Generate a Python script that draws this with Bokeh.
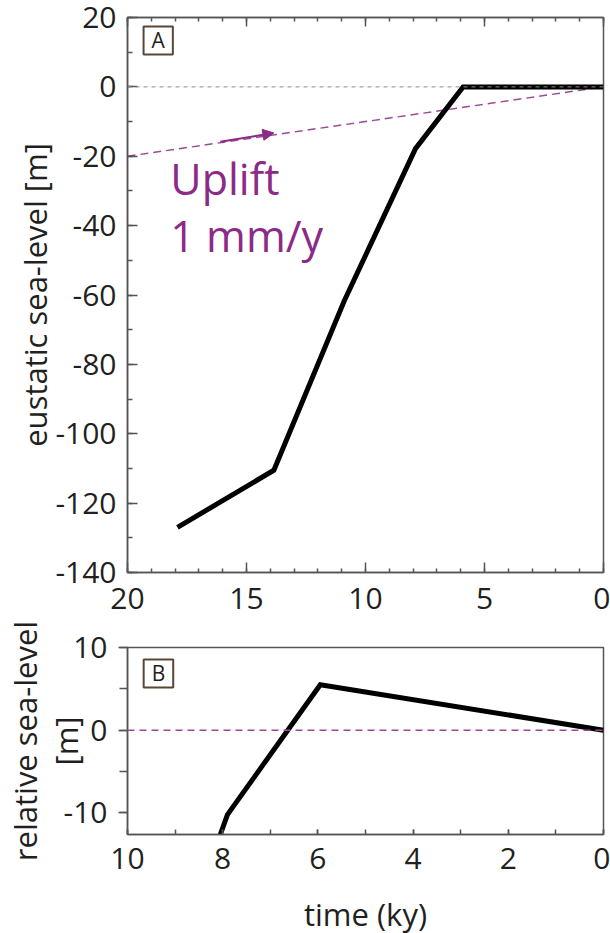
from bokeh.plotting import figure
from bokeh.models import (Range1d, SingleIntervalTicker, LinearAxis, Span, Label,
                          Arrow, NormalHead, CustomJSTickFormatter)
from bokeh.layouts import column
from bokeh.embed import file_html
from bokeh.resources import INLINE

# ---------------- data ----------------
# Panel A: eustatic sea-level curve
eustatic_time_ky = [17.9, 13.85, 10.9, 7.9, 5.9, 0.0]
eustatic_level_m = [-127.0, -110.5, -61.8, -17.8, 0.0, 0.0]
# Panel A: uplift reference line (1 mm/y)
uplift_time_ky = [20.0, 0.0]
uplift_level_m = [-20.0, 0.0]
# Panel A: arrow along the uplift line
arrow_time_ky = [16.1, 13.85]
arrow_level_m = [-15.8, -13.3]
# Panel B: relative sea-level curve
relative_time_ky = [8.05, 7.9, 5.95, 0.0]
relative_level_m = [-12.6, -10.2, 5.5, 0.0]

uplift_text = ["Uplift", "1 mm/y"]
panel_letters = ["A", "B"]
ylabel_a = "eustatic sea-level [m]"
ylabel_b = "relative sea-level"
ylabel_b_unit = "[m]"
xlabel_b = "time (ky)"

# ---------------- styling ----------------
FONT = "Open Sans"
INK = "#231f20"
AXIS = "#555555"
PURPLE = "#8b2a87"
DASH_PURPLE = "#9a4a96"
BOX = "#5a4636"

hyphen_fmt = "return tick.toString();"


def style_axis(ax, tin, tout, min_in, min_out):
    ax.axis_line_color = AXIS
    ax.axis_line_width = 1.5
    ax.major_tick_line_color = AXIS
    ax.major_tick_line_width = 1.5
    ax.minor_tick_line_color = AXIS
    ax.minor_tick_line_width = 1.5
    ax.major_tick_in = tin
    ax.major_tick_out = tout
    ax.minor_tick_in = min_in
    ax.minor_tick_out = min_out
    ax.major_label_text_font = FONT
    ax.major_label_text_font_size = "30px"
    ax.major_label_text_color = INK
    ax.axis_label_text_font = FONT
    ax.axis_label_text_font_size = "31px"
    ax.axis_label_text_font_style = "normal"
    ax.axis_label_text_color = INK
    ax.formatter = CustomJSTickFormatter(code=hyphen_fmt)


def hide_labels(ax):
    ax.major_label_text_color = None
    ax.major_label_text_font_size = "1px"
    ax.major_label_standoff = 0


# ---------------- Panel A ----------------
pa = figure(width=610, frame_height=555,
            x_range=Range1d(20, 0), y_range=Range1d(-140, 20),
            output_backend="svg", toolbar_location=None,
            min_border_left=122, min_border_right=7, min_border_top=17, min_border_bottom=58)
pa.xgrid.visible = False
pa.ygrid.visible = False
pa.outline_line_color = AXIS
pa.outline_line_width = 1.5

pa.xaxis.ticker = SingleIntervalTicker(interval=5, num_minor_ticks=5)
pa.yaxis.ticker = SingleIntervalTicker(interval=20, num_minor_ticks=2)
style_axis(pa.xaxis[0], 10, 0, 4, 0)
style_axis(pa.yaxis[0], 10, 0, 5, 0)
pa.xaxis.major_label_standoff = 15
pa.yaxis.major_label_standoff = 11
pa.yaxis.axis_label = ylabel_a
pa.yaxis.axis_label_standoff = -4

top_axis = LinearAxis(ticker=SingleIntervalTicker(interval=5, num_minor_ticks=5))
style_axis(top_axis, 9, 0, 4, 0)
hide_labels(top_axis)
pa.add_layout(top_axis, "above")

pa.add_layout(Span(location=0, dimension="width", line_color="#8c8c8c",
                   line_dash="4 4", line_width=1))
pa.line(uplift_time_ky, uplift_level_m, line_color=DASH_PURPLE, line_width=1.5,
        line_dash="8 5")
pa.line(eustatic_time_ky, eustatic_level_m, line_color="black", line_width=5,
        line_join="miter")
pa.add_layout(Arrow(end=NormalHead(size=11, fill_color=PURPLE, line_color=PURPLE, line_width=1),
                    x_start=arrow_time_ky[0], y_start=arrow_level_m[0],
                    x_end=arrow_time_ky[1], y_end=arrow_level_m[1],
                    line_color=PURPLE, line_width=2))
pa.add_layout(Label(x=18.2, y=-26.4, text=uplift_text[0], text_font=FONT,
                    text_font_size="43px", text_color=PURPLE,
                    text_align="left", text_baseline="alphabetic"))
pa.add_layout(Label(x=18.2, y=-42.8, text=uplift_text[1], text_font=FONT,
                    text_font_size="43px", text_color=PURPLE,
                    text_align="left", text_baseline="alphabetic"))
pa.add_layout(Label(x=18.71, y=13.4, text=panel_letters[0], text_font=FONT,
                    text_font_size="21px", text_color=INK, text_align="center",
                    text_baseline="middle", border_line_color=BOX,
                    border_line_width=2, background_fill_color="white", padding=(8, 0)))

# ---------------- Panel B ----------------
pb = figure(width=610, frame_height=187,
            x_range=Range1d(10, 0), y_range=Range1d(-12.6, 10),
            output_backend="svg", toolbar_location=None,
            min_border_left=122, min_border_right=7, min_border_top=31, min_border_bottom=99)
pb.margin = (-14, 0, 0, 0)
pb.border_fill_color = None
pb.xgrid.visible = False
pb.ygrid.visible = False
pb.outline_line_color = AXIS
pb.outline_line_width = 1.5

pb.xaxis.ticker = SingleIntervalTicker(interval=2, num_minor_ticks=2)
pb.yaxis.ticker = SingleIntervalTicker(interval=10, num_minor_ticks=2)
style_axis(pb.xaxis[0], 5, 0, 5, 0)
style_axis(pb.yaxis[0], 0, 9, 0, 8)
pb.xaxis.major_label_standoff = 13
pb.xaxis.axis_label = xlabel_b
pb.xaxis.axis_label_standoff = 21
# inner left axis: ticks, tick labels and the "[m]" unit tucked next to them
pb.yaxis.major_label_standoff = 11
pb.yaxis.axis_label = ylabel_b_unit
pb.yaxis.axis_label_standoff = -26
# outer left axis: only the "relative sea-level" label
outer_axis = LinearAxis(ticker=SingleIntervalTicker(interval=10))
style_axis(outer_axis, 0, 0, 0, 0)
hide_labels(outer_axis)
outer_axis.axis_line_color = None
outer_axis.major_tick_line_color = None
outer_axis.minor_tick_line_color = None
outer_axis.axis_label = ylabel_b
outer_axis.axis_label_standoff = -4
pb.add_layout(outer_axis, "left")

pb.add_layout(Span(location=0, dimension="width", line_color=DASH_PURPLE,
                   line_dash="7 5", line_width=1.5))
pb.line(relative_time_ky, relative_level_m, line_color="black", line_width=5,
        line_join="miter")
pb.add_layout(Label(x=9.35, y=6.87, text=panel_letters[1], text_font=FONT,
                    text_font_size="21px", text_color=INK, text_align="center",
                    text_baseline="middle", border_line_color=BOX,
                    border_line_width=2, background_fill_color="white", padding=(8, 0)))

layout = column(pa, pb, spacing=0)
open("out.html", "w").write(file_html(layout, INLINE))
